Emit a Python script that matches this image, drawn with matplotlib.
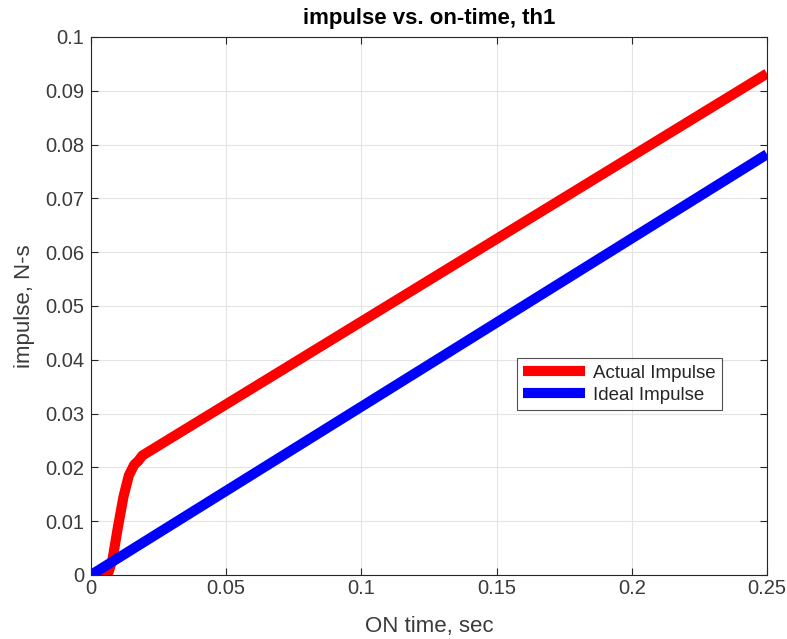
import matplotlib
matplotlib.use("Agg")
import matplotlib.pyplot as plt

plt.rcParams['font.family'] = ['Liberation Sans', 'DejaVu Sans']

# data
t_actual = [0.0, 0.005, 0.0065, 0.008, 0.010, 0.012, 0.014, 0.016, 0.0175, 0.019, 0.25]
imp_actual = [0.0, 0.0, 0.0005, 0.003, 0.009, 0.0145, 0.0185, 0.0205, 0.0212, 0.0222, 0.0932]
t_ideal = [0.0, 0.25]
imp_ideal = [0.0, 0.0782]

xticks = [0, 0.05, 0.1, 0.15, 0.2, 0.25]
xticklabels = ['0', '0.05', '0.1', '0.15', '0.2', '0.25']
yticks = [0, 0.01, 0.02, 0.03, 0.04, 0.05, 0.06, 0.07, 0.08, 0.09, 0.1]
yticklabels = ['0', '0.01', '0.02', '0.03', '0.04', '0.05', '0.06', '0.07', '0.08', '0.09', '0.1']

fig = plt.figure(figsize=(7.87, 6.39), dpi=100)
ax = fig.add_axes([0.1156, 0.1002, 0.859, 0.842])

ax.plot(t_actual, imp_actual, color='#ff0000', lw=7.3, label='Actual Impulse', solid_capstyle='butt')
ax.plot(t_ideal, imp_ideal, color='#0000ff', lw=7.3, label='Ideal Impulse', solid_capstyle='butt')

ax.set_xlim(0, 0.25)
ax.set_ylim(0, 0.1)
ax.set_xticks(xticks)
ax.set_xticklabels(xticklabels)
ax.set_yticks(yticks)
ax.set_yticklabels(yticklabels)
ax.grid(True, color='#e3e3e3', lw=0.8)
ax.set_axisbelow(True)
ax.tick_params(direction='in', top=True, right=True, labelsize=14.5, colors='#262626',
               labelcolor='#3a3a3a', length=5)
ax.tick_params(axis='x', pad=3)
ax.tick_params(axis='y', pad=5)
for s in ax.spines.values():
    s.set_color('#262626')
    s.set_linewidth(0.8)

ax.set_xlabel('ON time, sec', fontsize=16, color='#3a3a3a', labelpad=13)
ax.set_ylabel('impulse, N-s', fontsize=16, color='#3a3a3a', labelpad=7)
ax.set_title('impulse vs. on-time, th1', fontsize=16, fontweight='bold', color='#000000', pad=9)

leg = ax.legend(loc='upper left', bbox_to_anchor=(0.630, 0.403), borderaxespad=0, fontsize=13.5,
                frameon=True, fancybox=False, edgecolor='#262626', handlelength=3.3,
                borderpad=0.35, labelspacing=0.25, handletextpad=0.4)
leg.get_frame().set_linewidth(0.8)
for txt in leg.get_texts():
    txt.set_color('#262626')

fig.savefig('out.png', dpi=100)
